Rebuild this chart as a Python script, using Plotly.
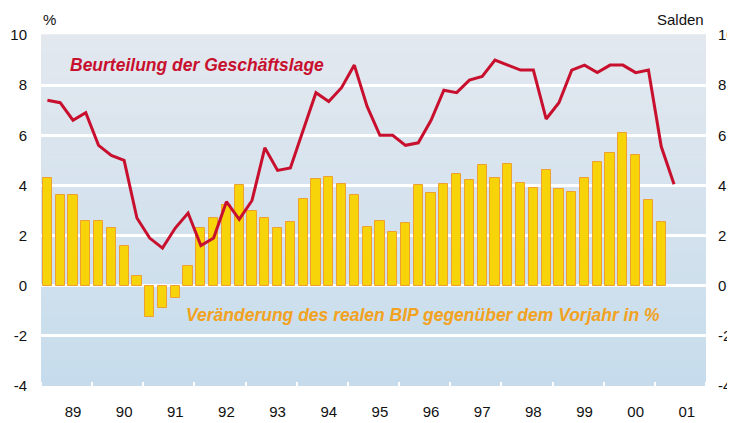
import plotly.graph_objects as go

# Quartalswerte ab 1989 Q1
bip = [4.3, 3.6, 3.6, 2.6, 2.6, 2.3, 1.6, 0.4,
       -1.25, -0.9, -0.5, 0.8, 2.3, 2.7, 3.2, 4.0,
       3.0, 2.7, 2.3, 2.55, 3.45, 4.25, 4.35, 4.05,
       3.6, 2.35, 2.6, 2.15, 2.5, 4.0, 3.7, 4.05,
       4.45, 4.2, 4.8, 4.3, 4.85, 4.1, 3.9, 4.6,
       3.85, 3.75, 4.3, 4.95, 5.3, 6.1, 5.2, 3.4,
       2.55]

geschaeftslage = [7.4, 7.3, 6.6, 6.9, 5.6, 5.2, 5.0, 2.7,
                  1.9, 1.5, 2.3, 2.9, 1.6, 1.9, 3.35, 2.65,
                  3.4, 5.5, 4.6, 4.7, 6.2, 7.7, 7.35, 7.9,
                  8.8, 7.15, 6.0, 6.0, 5.6, 5.7, 6.6, 7.8,
                  7.7, 8.2, 8.35, 9.0, 8.8, 8.6, 8.6, 6.65,
                  7.3, 8.6, 8.8, 8.5, 8.8, 8.8, 8.5, 8.6,
                  5.55, 4.05]

start_year = 1989
year_labels = ["89", "90", "91", "92", "93", "94", "95",
               "96", "97", "98", "99", "00", "01"]

y_ticks = [-4, -2, 0, 2, 4, 6, 8, 10]
y_ticktext = ["-4", "-2", "0", "2", "4", "6", "8", "10"]

x_bip = [start_year + i / 4 for i in range(len(bip))]
x_lage = [start_year + i / 4 for i in range(len(geschaeftslage))]

FONT = "Liberation Sans, Arial, sans-serif"
RED = "#C8102E"
ORANGE = "#F2A221"

fig = go.Figure()

fig.add_trace(go.Bar(
    x=x_bip, y=bip, width=0.18,
    marker=dict(color="#F7D40A", line=dict(color="#F0A030", width=1)),
    name="BIP", showlegend=False,
))

fig.add_trace(go.Scatter(
    x=x_lage, y=geschaeftslage, mode="lines",
    line=dict(color=RED, width=3),
    name="Geschäftslage", showlegend=False,
))

# unsichtbare Spur für die rechte Achse
fig.add_trace(go.Scatter(x=[x_lage[0]], y=[None], yaxis="y2",
                         showlegend=False, hoverinfo="skip"))

# Hintergrund-Verlauf (oben grau-blau, unten hellblau)
n_bands = 40
top = (227, 232, 239)
bot = (198, 220, 236)
for k in range(n_bands):
    t = (k + 0.5) / n_bands
    c = tuple(round(top[j] + (bot[j] - top[j]) * t) for j in range(3))
    fig.add_shape(type="rect", xref="x domain", yref="y domain",
                  x0=0, x1=1, y0=1 - (k + 1) / n_bands, y1=1 - k / n_bands + 0.002,
                  fillcolor="rgb(%d,%d,%d)" % c, line=dict(width=0),
                  layer="below")

fig.add_annotation(text="<b><i>Beurteilung der Geschäftslage</i></b>",
                   xref="paper", yref="paper", x=0.041, y=0.915,
                   xanchor="left", yanchor="middle", showarrow=False,
                   font=dict(family=FONT, size=17.5, color=RED))
fig.add_annotation(text="<b><i>Veränderung des realen BIP gegenüber dem Vorjahr in %</i></b>",
                   xref="paper", yref="paper", x=0.215, y=0.202,
                   xanchor="left", yanchor="middle", showarrow=False,
                   font=dict(family=FONT, size=17.5, color=ORANGE))
fig.add_annotation(text="%", xref="paper", yref="paper", x=0.0, y=1.0,
                   yshift=5, xanchor="left", yanchor="bottom",
                   showarrow=False, font=dict(family=FONT, size=15, color="#111"))
fig.add_annotation(text="Salden", xref="paper", yref="paper", x=1.0, y=1.0,
                   yshift=5, xanchor="right", yanchor="bottom",
                   showarrow=False, font=dict(family=FONT, size=15, color="#111"))

# die Seite hat 8px Rand, daher Figur etwas kleiner
fig.update_layout(
    width=727, height=415,
    margin=dict(l=33, r=29, t=27, b=37, autoexpand=False),
    paper_bgcolor="white",
    plot_bgcolor="rgba(0,0,0,0)",
    font=dict(family=FONT, size=15, color="#111"),
    bargap=0,
    xaxis=dict(
        range=[start_year - 0.125, start_year - 0.125 + len(year_labels)],
        tickvals=[start_year + i + 0.5 for i in range(len(year_labels))],
        ticktext=year_labels,
        ticks="", showgrid=False, zeroline=False, showline=False,
        ticklabelstandoff=15, automargin=False,
        minor=dict(tick0=start_year - 0.125, dtick=1, ticks="inside",
                   ticklen=4, tickwidth=2, tickcolor="white", showgrid=False),
    ),
    yaxis=dict(
        range=[-4, 10], tickvals=y_ticks, ticktext=y_ticktext,
        showgrid=True, gridcolor="white", gridwidth=3,
        zeroline=True, zerolinecolor="white", zerolinewidth=3,
        showline=False, ticks="", ticklabelstandoff=13, automargin=False,
    ),
    yaxis2=dict(
        range=[-4, 10], tickvals=y_ticks, ticktext=y_ticktext,
        overlaying="y", side="right",
        showgrid=False, zeroline=False, showline=False, ticks="",
        ticklabelstandoff=11, automargin=False,
    ),
)

fig.write_html("out.html")
